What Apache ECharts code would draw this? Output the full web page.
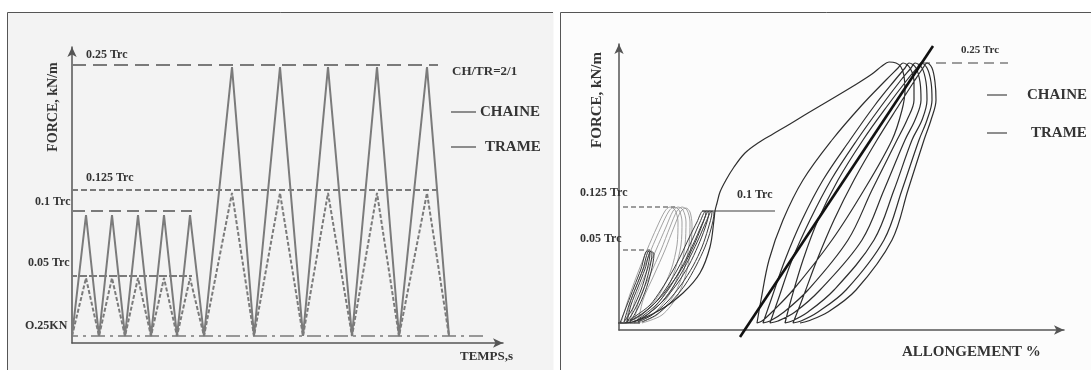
<!DOCTYPE html>
<html>
<head>
<meta charset="utf-8">
<title>Essai cyclique - chaine / trame</title>
<script src="https://cdn.jsdelivr.net/npm/echarts@6/dist/echarts.min.js"></script>
<style>
  html, body { margin: 0; padding: 0; background: #fff; }
  #chart { width: 1091px; height: 370px; }
</style>
</head>
<body>
<div id="chart"></div>
<script>
// ---------- panneau gauche : programme de chargement ----------
// temps (unités du schéma) : départ, pics et creux successifs
const tempsPoints = [0, 14, 27, 40, 53, 66, 79, 92, 105, 118, 132, 160, 182, 208, 231, 256, 280, 305, 327, 355, 377];
const forceChaine = [7, 128, 7, 128, 7, 128, 7, 128, 7, 128, 7, 276, 7, 276, 7, 276, 7, 276, 7, 276, 7];
const forceTrame  = [7, 65, 7, 65, 7, 65, 7, 65, 7, 65, 7, 150, 7, 150, 7, 150, 7, 150, 7, 150, 7];

// niveaux de référence (gauche)
const niveauxG      = ['0.25 Trc', '0.125 Trc', '0.1 Trc', '0.05 Trc', 'O.25KN'];
const niveauxGVal   = [278, 153, 132, 67, 7];
const niveauxGDebut = [0, 0, -35, -33, -35];
const niveauxGFin   = [366, 366, 120, 120, 415];

// ---------- panneau droit : boucles force / allongement ----------
// 1er chargement (enveloppe) jusqu'à 0.25 Trc
const enveloppe = [[1,7],[13,8],[41,20],[64,37],[81,57],[91,83],[95,110],[96,119],[98,127],[101,138],[107,150],
  [115,163],[126,177],[139,187],[154,196],[171,206],[189,217],[211,230],[236,245],[253,256],[263,264],[270,268],[277,267],[282,263]];
const decharge0 = [[285,254],[286,240],[283,220],[273,190],[245,140],[213,90],[174,40],[153,18],[143,9],[138,7]];
const cycle1 = [[142,30],[150,70],[164,110],[184,150],[213,190],[243,225],[267,250],[279,262],[284,267],[291,262],
  [295,248],[295,230],[288,210],[277,188],[253,140],[229,90],[189,40],[165,18],[151,9],[144,7]];
const cycle2 = [[152,30],[166,70],[183,110],[204,150],[231,190],[256,225],[276,250],[286,262],[290,267],[297,262],
  [301,248],[302,230],[296,210],[286,190],[265,140],[243,90],[201,40],[176,18],[159,9],[151,7]];
const cycle3 = [[159,30],[173,70],[191,110],[212,150],[238,190],[263,225],[282,250],[292,262],[296,267],[303,262],
  [307,248],[308,230],[303,210],[293,190],[275,140],[255,90],[215,40],[189,18],[173,9],[166,7]];
const cycle4 = [[172,30],[184,70],[199,110],[219,150],[244,190],[269,225],[288,250],[298,262],[302,267],[308,262],
  [312,248],[313,230],[308,210],[300,190],[283,140],[265,90],[227,40],[199,18],[182,9],[174,7]];
const cycle5 = [[183,30],[198,70],[215,110],[235,150],[258,190],[280,225],[296,250],[304,262],[308,267],[313,262],
  [316,248],[317,230],[312,210],[305,190],[289,140],[273,90],[237,40],[209,18],[189,9],[181,7]];

// petites boucles à 0.05 Trc (trait foncé)
const boucles005 = [[1,7],[8,25],[15,43],[22,61],[28,79],[31,77],[28,60],[22,40],[14,22],[5,8],
  [10,25],[17,43],[24,61],[30,79],[33,77],[30,59],[24,39],[16,21],[8,8],
  [12,25],[19,43],[26,61],[32,79],[35,76],[32,58],[26,38],[18,20],[11,8]];
// boucles à 0.125 Trc (trait fin gris)
const boucles0125 = [[2,7],[9,30],[18,55],[28,80],[38,103],[46,119],[51,123],[56,120],[59,108],[58,85],[52,60],[40,35],[23,15],[7,7],
  [12,30],[22,55],[32,80],[42,103],[50,119],[55,123],[60,120],[63,108],[62,85],[56,60],[45,35],[28,15],[11,7],
  [16,30],[26,55],[37,80],[47,103],[54,119],[59,123],[64,120],[67,108],[66,85],[61,60],[50,35],[33,15],[15,7],
  [20,30],[31,55],[42,80],[51,103],[58,119],[63,123],[68,120],[71,108],[70,85],[65,60],[55,35],[38,15],[19,7],
  [24,30],[35,55],[46,80],[55,103],[62,119],[67,122],[71,118],[73,105],[72,85],[68,60],[59,35],[43,15],[23,7]];
// boucles à 0.1 Trc (bande foncée)
const boucles01 = [[6,7],[18,15],[31,25],[42,40],[53,58],[62,75],[70,92],[78,108],[84,119],[87,118],[82,102],[75,85],[65,65],[53,47],[39,30],[24,17],[11,9],
  [22,15],[35,26],[46,40],[57,58],[66,75],[74,92],[81,108],[87,119],[90,118],[86,102],[79,84],[70,65],[58,46],[44,29],[29,16],[15,8],
  [25,15],[38,26],[49,40],[60,58],[69,75],[77,92],[84,108],[90,119],[93,118],[89,101],[83,83],[74,64],[62,45],[48,28],[33,15],[19,8],
  [28,15],[41,26],[52,40],[63,58],[72,75],[80,92],[87,108],[93,119],[95,117],[92,101],[86,83],[77,64],[66,45],[52,28],[37,15],[23,8]];
const paliersBas = [[-1,7],[21,7]];
// droite de rigidité
const droite = [[121,-7],[314,284]];

// niveaux de référence (droite)
const niveauxD      = ['0.25 Trc', '0.125 Trc', '0.05 Trc', '0.1 Trc'];
const niveauxDVal   = [267, 123, 80, 119];
const niveauxDDebut = [301, -36, -36, 83];
const niveauxDFin   = [389, 56, 31, 156];

const FONT = '"Liberation Serif", "DejaVu Serif", serif';
const TXT = '#343434';

// série simple sans symbole
function trace(points, axe, couleur, largeur, type, lisse) {
  return {
    type: 'line',
    xAxisIndex: axe,
    yAxisIndex: axe,
    data: points,
    symbol: 'none',
    smooth: lisse || false,
    clip: false,
    silent: true,
    lineStyle: { color: couleur, width: largeur, type: type || 'solid' },
  };
}

function axeFleche(grid, max) {
  return {
    type: 'value',
    gridIndex: grid,
    min: 0,
    max: max,
    axisLine: {
      show: true,
      onZero: false,
      symbol: ['none', 'arrow'],
      symbolSize: [7, 10],
      lineStyle: { color: '#555', width: 1.5 },
    },
    axisTick: { show: false },
    axisLabel: { show: false },
    splitLine: { show: false },
  };
}

function texte(x, y, t, taille, rot) {
  return {
    type: 'text',
    x: x,
    y: y,
    z: 100,
    rotation: rot || 0,
    silent: true,
    style: {
      text: t,
      font: 'bold ' + taille + 'px ' + FONT,
      fill: TXT,
      textAlign: rot ? 'center' : 'left',
      align: rot ? 'center' : 'left',
      textVerticalAlign: 'middle',
      verticalAlign: 'middle',
    },
  };
}

function legende(x1, x2, y) {
  return { type: 'line', z: 100, silent: true, shape: { x1: x1, y1: y, x2: x2, y2: y }, style: { stroke: '#6a6a6a', lineWidth: 1.5 } };
}

const series = [];
// gauche
const styleNivG = [[14, 7], [6, 3], [12, 6], [8, 2], [14, 5, 3, 5]];
niveauxGVal.forEach((v, i) => {
  series.push(trace([[niveauxGDebut[i], v], [niveauxGFin[i], v]], 0, '#7a7a7a', i === 4 ? 1.6 : 2, styleNivG[i]));
});
series.push(trace(tempsPoints.map((t, i) => [t, forceChaine[i]]), 0, '#7b7b7b', 2));
series.push(trace(tempsPoints.map((t, i) => [t, forceTrame[i]]), 0, '#7b7b7b', 2, [4, 2]));
// droite
const styleNivD = [[10, 6], [5, 3], [5, 3], 'solid'];
niveauxDVal.forEach((v, i) => {
  series.push(trace([[niveauxDDebut[i], v], [niveauxDFin[i], v]], 1, '#7d7d7d', 1.3, styleNivD[i]));
});
series.push(trace(boucles0125, 1, '#8c8c8c', 0.8, 'solid', 0.3));
series.push(trace(boucles01, 1, '#3c3c3c', 1, 'solid', 0.3));
series.push(trace(boucles005, 1, '#3c3c3c', 1, 'solid', 0.3));
series.push(trace(paliersBas, 1, '#3c3c3c', 1.2));
series.push(trace([].concat(enveloppe, decharge0, cycle1, cycle2, cycle3, cycle4, cycle5), 1, '#2e2e2e', 1.2, 'solid', 0.35));
series.push(trace(droite, 1, '#111', 2.6));

const chart = echarts.init(document.getElementById('chart'), null, { renderer: 'canvas' });
chart.setOption({
  animation: false,
  backgroundColor: '#ffffff',
  grid: [
    { left: 72, top: 47, width: 431, height: 296 },
    { left: 619, top: 44, width: 445, height: 286 },
  ],
  xAxis: [axeFleche(0, 431), axeFleche(1, 445)],
  yAxis: [axeFleche(0, 296), axeFleche(1, 286)],
  graphic: [
    // fonds et cadres des deux panneaux
    { type: 'rect', z: -1, silent: true, shape: { x: 7.5, y: 12.5, width: 546, height: 370 }, style: { fill: '#f3f3f3' } },
    { type: 'polyline', z: -1, silent: true, shape: { points: [[7.5, 372], [7.5, 12.5], [553, 12.5]] }, style: { stroke: '#555', lineWidth: 1, fill: null } },
    { type: 'rect', z: -1, silent: true, shape: { x: 560.5, y: 12.5, width: 540, height: 370 }, style: { fill: '#fcfcfc', stroke: '#555', lineWidth: 1 } },
    // textes gauche
    texte(86, 55, niveauxG[0], 12),
    texte(86, 178, niveauxG[1], 12),
    texte(35, 202, niveauxG[2], 12),
    texte(28, 263, niveauxG[3], 12),
    texte(25, 326, niveauxG[4], 12),
    texte(53, 107, 'FORCE, kN/m', 14, Math.PI / 2),
    texte(460, 357, 'TEMPS,s', 13),
    texte(452, 72, 'CH/TR=2/1', 13),
    legende(451, 476, 112),
    texte(480, 112, 'CHAINE', 15),
    legende(451, 476, 147),
    texte(485, 147, 'TRAME', 15),
    // textes droite
    texte(961, 50, niveauxD[0], 11),
    texte(580, 193, niveauxD[1], 12),
    texte(580, 239, niveauxD[2], 12),
    texte(737, 195, niveauxD[3], 12),
    texte(597, 100, 'FORCE, kN/m', 15, Math.PI / 2),
    texte(902, 352, 'ALLONGEMENT %', 15),
    legende(987, 1007, 95),
    texte(1027, 95, 'CHAINE', 15),
    legende(987, 1007, 133),
    texte(1031, 133, 'TRAME', 15),
  ],
  series: series,
});
</script>
</body>
</html>
